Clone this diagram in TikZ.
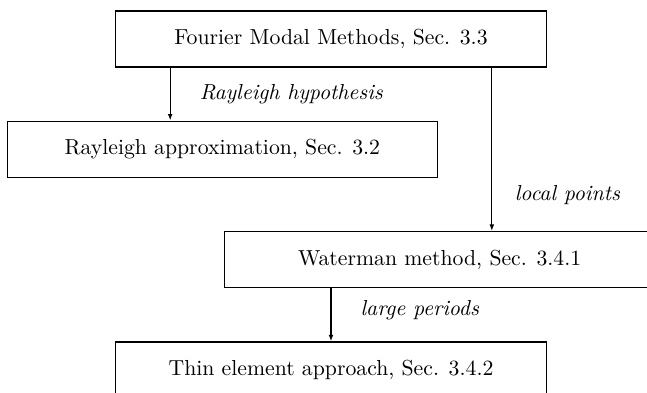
\documentclass[tikz,border=0pt]{standalone}
\usepackage{tikz}
\usetikzlibrary{arrows.meta,positioning}

\begin{document}
\begin{tikzpicture}

\tikzset{method/.style={draw, semithick, minimum width=198pt, minimum height=25.8pt},
         flow/.style={semithick, -{Latex[length=3pt,width=2.2pt]}},
         why/.style={font=\itshape}}

\clip (-152.3pt,-162.8pt) rectangle (145.4pt,17.9pt);

\node[method] (fmm) {Fourier Modal Methods, Sec. 3.3};
\node[method, below=24.4pt of fmm, xshift=-50pt] (rayleigh) {Rayleigh approximation, Sec. 3.2};
\node[method, below=24.4pt of rayleigh, xshift=100pt] (waterman) {Waterman method, Sec. 3.4.1};
\node[method, below=24.4pt of waterman, xshift=-50pt] (thin) {Thin element approach, Sec. 3.4.2};

% connectors
\draw[flow] ([xshift=-74pt]fmm.south) -- ([xshift=-74pt]fmm.south |- rayleigh.north)
    node[why, midway, right=10pt] {Rayleigh hypothesis};
\draw[flow] ([xshift=74pt]fmm.south) -- ([xshift=74pt]fmm.south |- waterman.north)
    node[why, pos=0.78, right=7pt] {local points};
\draw[flow] (waterman.south -| thin.north) -- (thin.north)
    node[why, pos=0.42, right=10pt] {large periods};

\end{tikzpicture}
\end{document}
